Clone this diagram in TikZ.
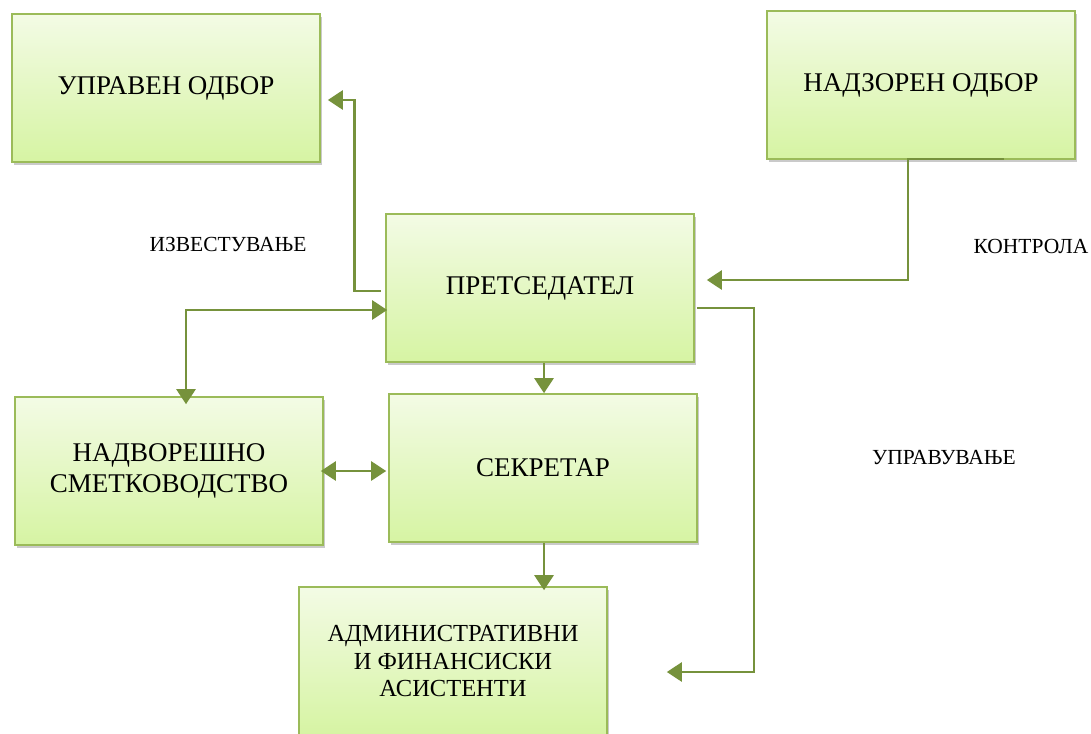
\documentclass[tikz,border=0pt]{standalone}
\usepackage{fontspec}
\setmainfont{Liberation Serif}
\usepackage{tikz}
\usetikzlibrary{arrows.meta,shadows,calc}
\definecolor{boxline}{RGB}{155,187,89}
\definecolor{boxtop}{RGB}{243,251,229}
\definecolor{boxbot}{RGB}{214,244,163}
\definecolor{arrgreen}{RGB}{118,146,60}

\begin{document}
\begin{tikzpicture}[x=1pt, y=-1pt,
    box/.style={draw=boxline, line width=1.6pt, minimum width=308pt, minimum height=148pt,
      top color=boxtop, bottom color=boxbot, align=center,
      drop shadow={shadow xshift=2pt, shadow yshift=-3pt, opacity=0.35, fill=black!60},
      font=\fontsize{27}{31}\selectfont},
    lbl/.style={font=\fontsize{21.5}{24}\selectfont},
    conn/.style={draw=arrgreen, line width=2.6pt},
    >={Triangle[length=15pt,width=19pt]}]
    \useasboundingbox (0,0) rectangle (1091,733);

    \node[box] (upr) at (166,88) {УПРАВЕН ОДБОР};
    \node[box] (nadz) at (921,85) {НАДЗОРЕН ОДБОР};
    \node[box] (pres) at (540,288) {ПРЕТСЕДАТЕЛ};
    \node[box] (nadv) at (169,471) {НАДВОРЕШНО\\СМЕТКОВОДСТВО};
    \node[box] (sekr) at (543,468) {СЕКРЕТАР};
    \node[box, font=\fontsize{24.5}{27.5}\selectfont] (admin) at (453,661)
      {АДМИНИСТРАТИВНИ\\И ФИНАНСИСКИ\\АСИСТЕНТИ};

    \node[lbl] (lizv) at (228,244) {ИЗВЕСТУВАЊЕ};
    \node[lbl] (lkontr) at (1031,246) {КОНТРОЛА};
    \node[lbl] (lupr) at (944,458) {УПРАВУВАЊЕ};

    \draw[conn,->] ([xshift=-4pt,yshift=-3pt]pres.west) -- ++(-27pt,0)
      |- ([xshift=7pt,yshift=-12pt]upr.east);
    \draw[conn,->] ([xshift=83pt,yshift=1pt]nadz.south) -- ([xshift=-13pt,yshift=1pt]nadz.south)
      |- ([xshift=12pt,yshift=8pt]pres.east);
    \draw[conn,<->] ([xshift=17pt,yshift=-8pt]nadv.north) |- ([xshift=2pt,yshift=-22pt]pres.west);
    \draw[conn,<->] ([xshift=-3pt]nadv.east) -- ([xshift=-2pt,yshift=-3pt]sekr.west);
    \draw[conn,->] ([xshift=4pt]pres.south) -- ($(pres.south |- sekr.north)+(4pt,0)$);
    \draw[conn,->] ([xshift=1pt]sekr.south) -- ($(sekr.south |- admin.north)+(1pt,-4pt)$);
    \draw[conn,->] ([xshift=2pt,yshift=-20pt]pres.east) -- ++(57pt,0)
      |- ([xshift=59pt,yshift=-11pt]admin.east);
\end{tikzpicture}
\end{document}
